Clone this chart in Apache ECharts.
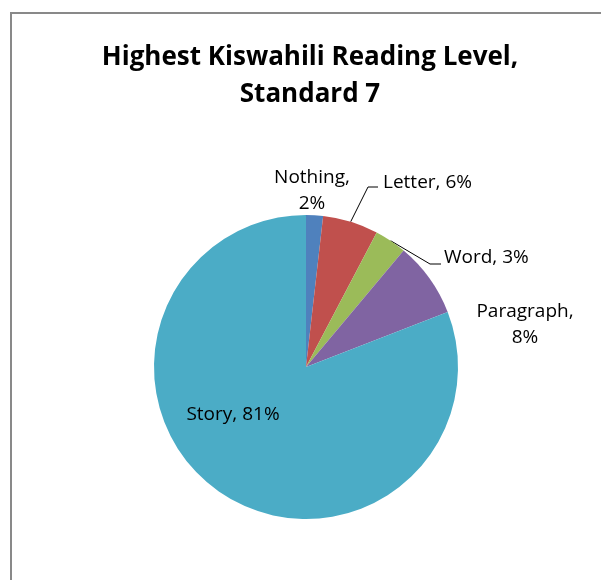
<!DOCTYPE html>
<html>
<head>
<meta charset="utf-8">
<script src="https://cdn.jsdelivr.net/npm/echarts@6/dist/echarts.min.js"></script>
<style>
  html, body { margin: 0; padding: 0; background: #fff; }
  #chart { width: 601px; height: 580px; }
</style>
</head>
<body>
<div id="chart"></div>
<script>
// data (percent of pupils)
const levels = ["Nothing", "Letter", "Word", "Paragraph", "Story"];
const shares = [1.8, 5.9, 3.4, 8.0, 80.9];
const colors = ["#4F81BD", "#C0504D", "#9BBB59", "#8064A2", "#4BACC6"];

const CX = 306, CY = 367, R = 152;

// where Excel put each label, as offset from the pie centre
// ax/ay = label anchor, knee = bend of the leader line
const placement = {
  Nothing:   { ax: 6,   ay: -176, align: "center" },
  Letter:    { ax: 77,  ay: -184, align: "left", knee: [62, -180], end: [72, -180] },
  Word:      { ax: 138, ay: -109, align: "left", knee: [124, -103], end: [135, -103] },
  Paragraph: { ax: 219, ay: -42,  align: "center" },
  Story:     { ax: -73, ay: 48,   align: "center" }
};

const chart = echarts.init(document.getElementById("chart"));

// label text per slice, Excel style
function labelText(p) {
  const pct = Math.round(p.percent) + "%";
  if (p.name === "Nothing" || p.name === "Paragraph") return p.name + ",\n" + pct;
  return p.name + ", " + pct;
}

const option = {
  animation: false,
  color: colors,
  title: {
    text: "Highest Kiswahili Reading Level,\nStandard 7",
    left: 305,
    top: 34,
    textAlign: "center",
    textStyle: {
      fontFamily: "Open Sans",
      fontSize: 26,
      fontWeight: "bold",
      color: "#000",
      lineHeight: 37
    }
  },
  graphic: [
    {
      type: "rect",
      shape: { x: 11, y: 13, width: 1000, height: 1000 },
      style: { fill: "none", stroke: "#898989", lineWidth: 2 },
      silent: true
    }
  ],
  series: [
    {
      type: "pie",
      center: [CX, CY],
      radius: R,
      startAngle: 90,
      clockwise: true,
      avoidLabelOverlap: false,
      label: {
        show: true,
        position: "outside",
        formatter: labelText,
        fontFamily: "Open Sans",
        fontSize: 19,
        color: "#000",
        lineHeight: 26
      },
      labelLine: {
        show: true,
        length: 20,
        length2: 8,
        lineStyle: { color: "#000", width: 1 }
      },
      labelLayout: function (params) {
        const p = placement[levels[params.dataIndex]];
        const out = {
          x: CX + p.ax,
          y: CY + p.ay,
          align: p.align,
          verticalAlign: "middle",
          hideOverlap: false
        };
        if (p.knee && params.labelLinePoints) {
          const start = params.labelLinePoints[0];
          out.labelLinePoints = [
            start,
            [CX + p.knee[0], CY + p.knee[1]],
            [CX + p.end[0], CY + p.end[1]]
          ];
        }
        return out;
      },
      data: levels.map((n, i) => {
        const d = { name: n, value: shares[i] };
        if (!placement[n].knee) d.labelLine = { show: false };
        return d;
      })
    }
  ]
};

chart.setOption(option);
</script>
</body>
</html>
